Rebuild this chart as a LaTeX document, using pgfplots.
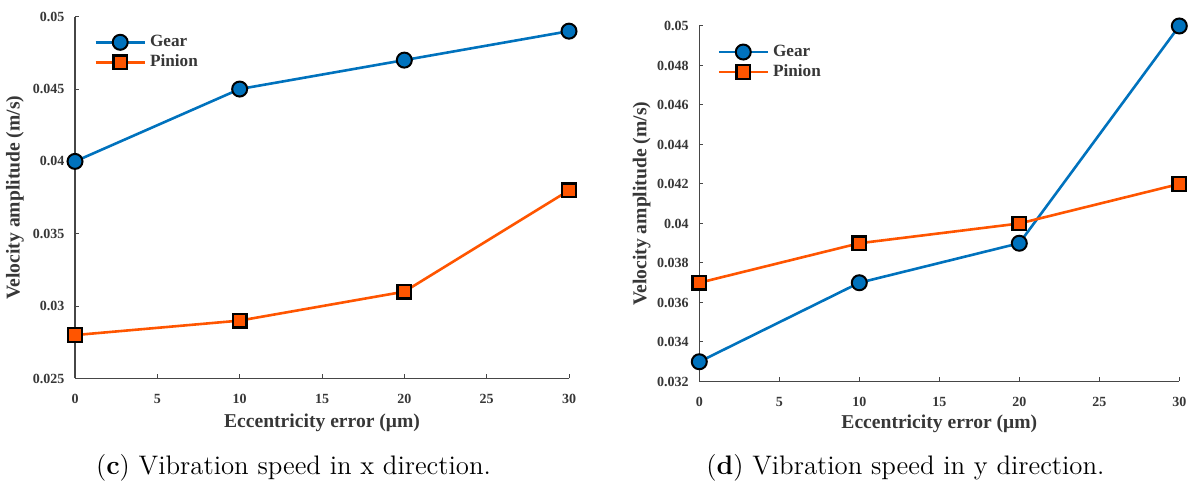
\documentclass[border=0pt]{standalone}
\usepackage{fontspec}
\usepackage{pgfplots}
\pgfplotsset{compat=1.18}
\newfontfamily\tnr{Liberation Serif}
\definecolor{gearblue}{RGB}{0,114,189}
\definecolor{pinorange}{RGB}{255,85,0}
\definecolor{axgray}{RGB}{70,70,70}
\definecolor{txtgray}{RGB}{55,55,55}

\pgfplotsset{
  myaxis/.style={
    scale only axis,
    axis x line=bottom, axis y line=left,
    axis line style={-, axgray, line width=0.6pt},
    tick style={axgray, line width=0.5pt},
    tick align=inside,
    major tick length=2pt,
    scaled y ticks=false, scaled x ticks=false,
    xmin=0, xmax=30,
    xtick={0,5,10,15,20,25,30},
    xticklabels={0,5,10,15,20,25,30},
    ticklabel style={font=\tnr\bfseries\fontsize{7}{8}\selectfont, text=txtgray},
    xticklabel style={yshift=-4.2pt},
    yticklabel style={xshift=-1.8pt},
    label style={font=\tnr\bfseries\fontsize{9.8}{11}\selectfont, text=txtgray},
    xlabel={Eccentricity error (μm)},
    ylabel={Velocity amplitude (m/s)},
    clip=false,
    legend cell align=left,
    legend image code/.code={\draw[mark repeat=2,mark phase=2] plot coordinates {(0pt,0pt) (12.25pt,0pt) (24.5pt,0pt)};},
    legend style={anchor=north west, draw=none, fill=none, inner sep=0pt, column sep=2pt, row sep=0pt,
      font=\tnr\bfseries\fontsize{8.6}{9}\selectfont, text=txtgray,
      nodes={inner sep=0pt, minimum height=10pt}},
  },
  gear/.style={gearblue, line width=1.3pt, mark=*, mark size=3.75pt,
    mark options={fill=gearblue, draw=black, line width=1pt}},
  pinion/.style={pinorange, line width=1.3pt, mark=square*, mark size=3.4pt,
    mark options={fill=pinorange, draw=black, line width=1.1pt}},
}

\begin{document}
\begin{tikzpicture}
\useasboundingbox (0,0) rectangle (598.5pt,245pt);

% (c) x direction
\begin{axis}[myaxis,
  at={(37.5pt,55.75pt)}, anchor=south west,
  width=247pt, height=180.9pt,
  ymin=0.025, ymax=0.05,
  ytick={0.025,0.03,0.035,0.04,0.045,0.05},
  yticklabels={0.025,0.03,0.035,0.04,0.045,0.05},
  x label style={at={(axis description cs:0.5,0)}, anchor=center, yshift=-22pt},
  y label style={at={([xshift=-30pt]axis description cs:0,0.5)}, anchor=center},
  legend style={at={(0.0385,0.958)}},
]
\addplot[gear] coordinates {(0,0.040) (10,0.045) (20,0.047) (30,0.049)};
\addlegendentry{Gear}
\addplot[pinion] coordinates {(0,0.028) (10,0.029) (20,0.031) (30,0.038)};
\addlegendentry{Pinion}
\end{axis}

% (d) y direction
\begin{axis}[myaxis,
  at={(349.65pt,54.25pt)}, anchor=south west,
  width=240pt, height=177.75pt,
  ymin=0.032, ymax=0.05,
  ytick={0.032,0.034,0.036,0.038,0.04,0.042,0.044,0.046,0.048,0.05},
  yticklabels={0.032,0.034,0.036,0.038,0.04,0.042,0.044,0.046,0.048,0.05},
  x label style={at={(axis description cs:0.5,0)}, anchor=center, yshift=-21.2pt},
  y label style={at={([xshift=-28.8pt]axis description cs:0,0.5)}, anchor=center},
  legend style={at={(0.037,0.956)}},
]
\addplot[gear] coordinates {(0,0.033) (10,0.037) (20,0.039) (30,0.050)};
\addlegendentry{Gear}
\addplot[pinion] coordinates {(0,0.037) (10,0.039) (20,0.040) (30,0.042)};
\addlegendentry{Pinion}
\end{axis}

\node[anchor=base, font=\fontsize{13.4}{15}\selectfont] at (146.75pt,7.85pt) {(\textbf{c}) Vibration speed in x direction.};
\node[anchor=base, font=\fontsize{13.4}{15}\selectfont] at (452.7pt,7.85pt) {(\textbf{d}) Vibration speed in y direction.};
\end{tikzpicture}
\end{document}
